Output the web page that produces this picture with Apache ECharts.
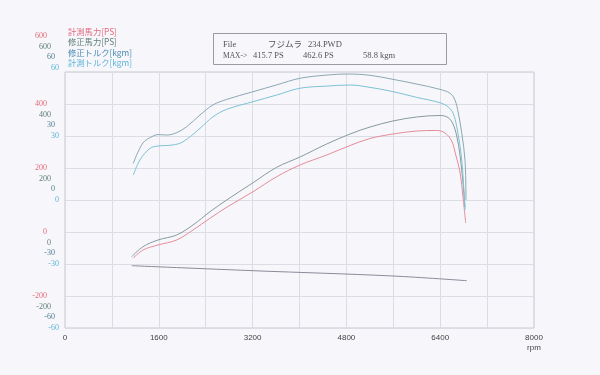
<!DOCTYPE html>
<html><head><meta charset="utf-8">
<script src="https://cdn.jsdelivr.net/npm/echarts@6/dist/echarts.min.js"></script>
<style>html,body{margin:0;padding:0;background:#f7f7fb}#c{width:600px;height:375px}</style>
</head><body><div id="c"></div>
<script>
// ---- data ----
const xTicks = [0, 1600, 3200, 4800, 6400, 8000];
const psTicks = [-200, 0, 200, 400, 600];
const kgmTicks = [-60, -30, 0, 30, 60];

const measPsRpm = [1160, 1330, 1586, 1905, 2183, 2473, 2758, 3207, 3611, 4009, 4464, 4862, 5203, 5595, 5999, 6340, 6482, 6596, 6670, 6738, 6789, 6835];
const measPs    = [-82.2, -56.3, -40.6, -25.0, 6.3, 42.8, 77.2, 125.9, 172.8, 209.4, 240.6, 270.3, 292.2, 306.3, 315.6, 317.2, 309.4, 284.4, 237.5, 187.5, 109.4, 28.1];

const corrPsRpm = [1138, 1330, 1586, 1905, 2183, 2473, 2758, 3207, 3611, 4009, 4464, 4862, 5203, 5595, 5999, 6397, 6533, 6618, 6682, 6738, 6789, 6823];
const corrPs    = [-42.8, -11.6, 9.4, 25.0, 56.3, 97.8, 134.4, 188.4, 236.6, 268.8, 309.4, 340.6, 362.5, 381.3, 393.8, 398.4, 392.2, 371.9, 334.4, 275.0, 187.5, 112.5];

const corrTqRpm = [1165, 1330, 1501, 1586, 1735, 1905, 2076, 2303, 2524, 2758, 3207, 3611, 4009, 4464, 4805, 5203, 5595, 5999, 6397, 6567, 6652, 6709, 6767, 6823, 6840];
const corrTq    = [12.0, 21.6, 24.8, 25.5, 25.3, 26.4, 29.2, 34.7, 39.4, 42.0, 45.6, 48.8, 51.9, 53.4, 53.9, 53.3, 51.4, 49.2, 46.7, 44.9, 41.7, 35.6, 26.3, 13.6, -5.2];

const measTqRpm = [1165, 1279, 1450, 1586, 1842, 2013, 2303, 2524, 2758, 3207, 3611, 4009, 4464, 4862, 5203, 5595, 5999, 6397, 6533, 6618, 6682, 6767, 6823];
const measTq    = [11.7, 18.8, 24.2, 25.3, 25.8, 27.3, 33.6, 39.0, 42.5, 46.1, 49.2, 52.4, 53.4, 53.9, 52.8, 50.8, 48.1, 45.6, 43.7, 40.8, 34.4, 18.8, -4.7];

const lossRpm = [1138, 3207, 5595, 6852];
const lossPs  = [-105.3, -120.9, -137.5, -152.2];

const legendNames = ['計測馬力[PS]', '修正馬力[PS]', '修正トルク[kgm]', '計測トルク[kgm]'];
const infoLine1 = ['File', 'フジムラ', '234.PWD'];
const infoLine2 = ['MAX->', '415.7 PS', '462.6 PS', '58.8 kgm'];

// ---- styling ----
const cRed = '#e06a7c', cGreen = '#5e7f72', cTeal = '#4f7f90', cBlue = '#5fb2d8';
const serif = 'Liberation Serif';
const zip = (a, b) => a.map((v, i) => [v, b[i]]);

const grids = [
  {left: 65, right: 66, top: 40, height: 256},
  {left: 65, right: 66, top: 51, height: 256},
  {left: 65, right: 66, top: 61, height: 256},
  {left: 65, right: 66, top: 72, height: 256, show: true, borderColor: '#c6c6d0', borderWidth: 1, backgroundColor: 'transparent'}
];

const xAxes = grids.map((g, i) => ({
  type: 'value', gridIndex: i, min: 0, max: 8000, interval: 800, show: i === 3,
  axisLine: {show: false}, axisTick: {show: false},
  splitLine: {show: i === 3, lineStyle: {color: '#dcdce4', width: 1}},
  axisLabel: {color: '#444', fontSize: 8, fontFamily: 'Liberation Sans', margin: 6,
    formatter: v => xTicks.includes(v) ? String(v) : ''}
}));

function yAx(i, min, max, interval, ticks, color, margin, isMain) {
  return {
    type: 'value', gridIndex: i, min, max, interval,
    axisLine: {show: false}, axisTick: {show: false},
    splitLine: {show: !!isMain, lineStyle: {color: '#dcdce4', width: 1}},
    axisLabel: {color, fontSize: 8, fontFamily: serif, margin,
      verticalAlignMaxLabel: 'bottom',
      formatter: v => ticks.includes(v) ? String(v) : ''}
  };
}
const yAxes = [
  yAx(0, -200, 600, 200, psTicks, cRed, 18),
  yAx(1, -200, 600, 200, psTicks, cGreen, 14),
  yAx(2, -60, 60, 30, kgmTicks, cTeal, 10),
  yAx(3, -60, 60, 15, kgmTicks, cBlue, 6, true)
];

function line(name, xi, data, color) {
  return {name, type: 'line', xAxisIndex: xi, yAxisIndex: xi, data, showSymbol: false,
    smooth: 0.35, lineStyle: {color, width: 1}, silent: true};
}

const legendColors = [cRed, cGreen, '#4a8ab0', cBlue];
const graphics = [];
legendNames.forEach((t, i) => graphics.push({type: 'text', x: 68, y: 32 + i * 10.3,
  style: {text: t, fill: legendColors[i], font: '8.3px "Noto Sans CJK JP", "Liberation Serif"', verticalAlign: 'middle'}}));
graphics.push({type: 'rect', shape: {x: 213.5, y: 33.5, width: 233, height: 31},
  style: {fill: 'transparent', stroke: '#9a9aa2', lineWidth: 1}});
const l1x = [223, 268, 308], l2x = [223, 253, 303, 363];
infoLine1.forEach((t, i) => graphics.push({type: 'text', x: l1x[i], y: 45,
  style: {text: t, fill: '#555', font: '8.5px "Liberation Serif", "Noto Sans CJK JP"', verticalAlign: 'middle'}}));
infoLine2.forEach((t, i) => graphics.push({type: 'text', x: l2x[i], y: 56,
  style: {text: t, fill: '#555', font: (i === 0 ? '7.5px' : '8.5px') + ' "Liberation Serif"', verticalAlign: 'middle'}}));
graphics.push({type: 'text', x: 534, y: 348, style: {text: 'rpm', fill: '#444', font: '8px "Liberation Sans"', align: 'center', verticalAlign: 'middle'}});

const chart = echarts.init(document.getElementById('c'), null, {renderer: 'canvas'});
chart.setOption({
  backgroundColor: '#f7f7fb',
  animation: false,
  grid: grids, xAxis: xAxes, yAxis: yAxes,
  graphic: graphics,
  series: [
    line('loss', 0, zip(lossRpm, lossPs), '#8a8a9a'),
    line(legendNames[0], 0, zip(measPsRpm, measPs), '#e58c99'),
    line(legendNames[1], 1, zip(corrPsRpm, corrPs), '#879b9e'),
    line(legendNames[2], 2, zip(corrTqRpm, corrTq), '#8aa8b2'),
    line(legendNames[3], 3, zip(measTqRpm, measTq), '#7cc2d6')
  ]
});
</script></body></html>
